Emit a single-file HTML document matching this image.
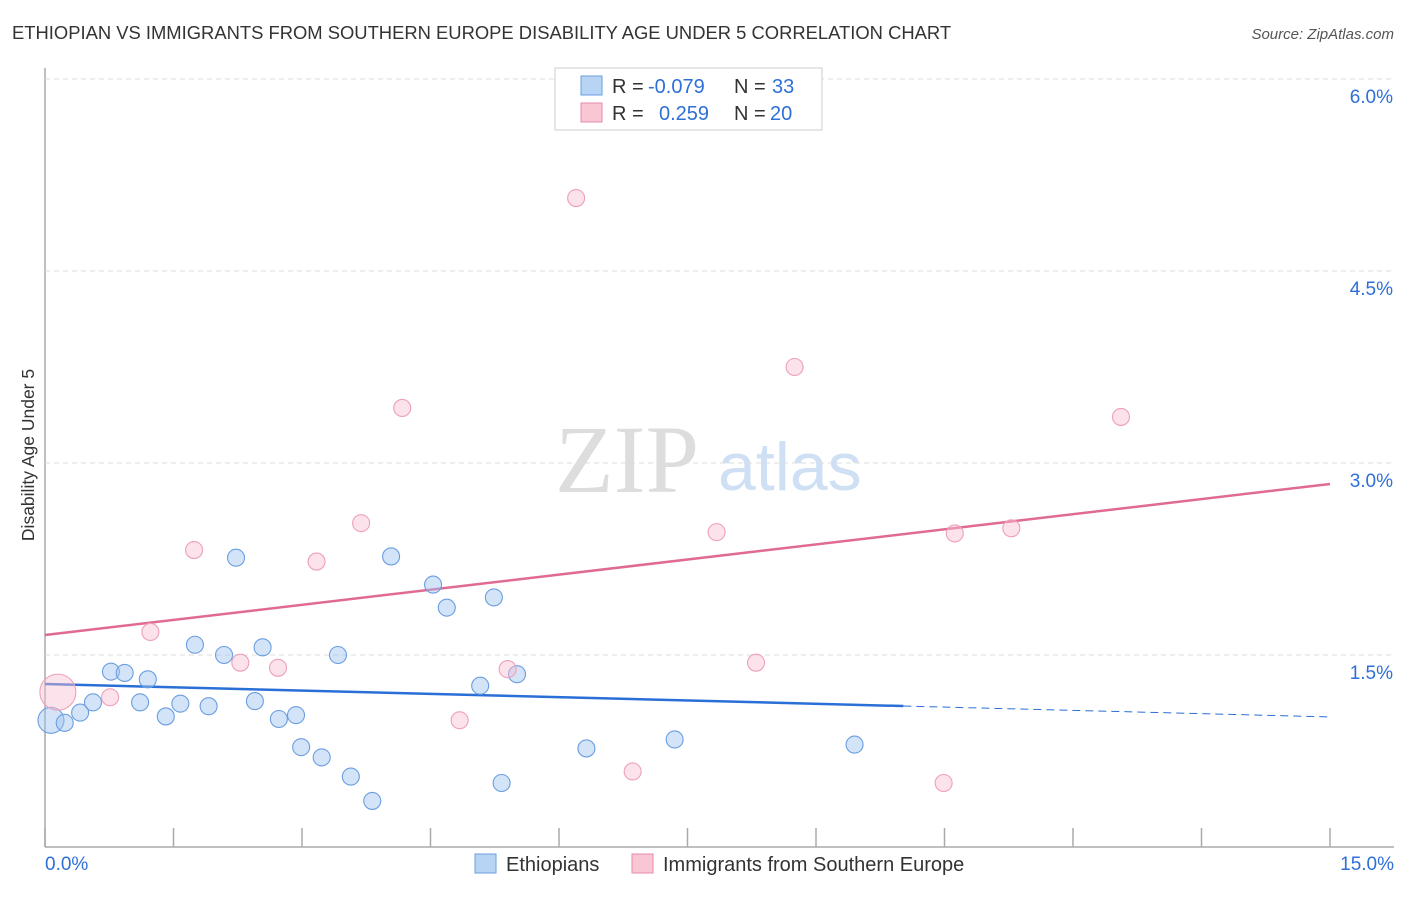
<!DOCTYPE html>
<html><head><meta charset="utf-8"><style>
body{margin:0;background:#fff;font-family:"Liberation Sans",sans-serif}
#wrap{position:relative;width:1406px;height:892px}
</style></head><body><div id="wrap">
<svg id="svg" width="1406" height="892" xmlns="http://www.w3.org/2000/svg">
<text x="12" y="39" font-size="18.4" fill="#333">ETHIOPIAN VS IMMIGRANTS FROM SOUTHERN EUROPE DISABILITY AGE UNDER 5 CORRELATION CHART</text>
<text x="1394" y="39" font-size="15" fill="#555" font-style="italic" text-anchor="end">Source: ZipAtlas.com</text>
<text transform="translate(34,455) rotate(-90)" font-size="17.5" fill="#333" text-anchor="middle">Disability Age Under 5</text>
<text x="555" y="492" font-size="96" fill="#ddd" font-family="Liberation Serif,serif">ZIP</text>
<text x="718" y="490" font-size="68" fill="#cfe0f5">atlas</text>
<g id="grid"></g><g id="ticks"></g><g id="trend"></g><g id="pts"></g>
<g>
<rect x="555" y="68" width="267" height="62" fill="#fff" stroke="#ccc"/>
<rect x="581" y="76" width="21" height="19" fill="#b8d4f5" stroke="#6a9ee0"/>
<rect x="581" y="103" width="21" height="19" fill="#f9c6d4" stroke="#e88aa8"/>
<text x="612" y="93" font-size="20" fill="#333">R = <tspan fill="#2e6fd8" x="648">-0.079</tspan></text>
<text x="734" y="93" font-size="20" fill="#333">N = <tspan fill="#2e6fd8" x="772">33</tspan></text>
<text x="612" y="120" font-size="20" fill="#333">R = <tspan fill="#2e6fd8" x="659">0.259</tspan></text>
<text x="734" y="120" font-size="20" fill="#333">N = <tspan fill="#2e6fd8" x="770">20</tspan></text>
</g>
<g>
<rect x="475" y="854" width="21" height="19" fill="#b8d4f5" stroke="#6a9ee0"/>
<text x="506" y="871" font-size="20" fill="#333">Ethiopians</text>
<rect x="632" y="854" width="21" height="19" fill="#f9c6d4" stroke="#e88aa8"/>
<text x="663" y="871" font-size="20" fill="#333">Immigrants from Southern Europe</text>
</g>
</svg></div>
<script>
const blueX=[0.07,0.23,0.41,0.56,0.77,0.93,1.11,1.20,1.41,1.58,1.75,1.91,2.09,2.23,2.45,2.54,2.73,2.93,2.99,3.23,3.42,3.57,3.82,4.04,4.53,4.69,5.08,5.24,5.33,5.51,6.32,7.35,9.45];
const blueY=[0.99,0.97,1.05,1.13,1.37,1.36,1.13,1.31,1.02,1.12,1.58,1.10,1.50,2.26,1.14,1.56,1.00,1.03,0.78,0.70,1.50,0.55,0.36,2.27,2.05,1.87,1.26,1.95,0.50,1.35,0.77,0.84,0.80];
const pinkX=[0.15,0.76,1.23,1.74,2.28,2.72,3.17,3.69,4.17,4.84,5.40,6.20,6.86,7.84,8.30,8.75,10.49,10.62,11.28,12.56];
const pinkY=[1.21,1.17,1.68,2.32,1.44,1.40,2.23,2.53,3.43,0.99,1.39,5.07,0.59,2.46,1.44,3.75,0.50,2.45,2.49,3.36];
const blueTrend=[1.273,1.016]; const blueSolidEnd=10.02;
const pinkTrend=[1.656,2.836];
const yTicks=[1.5,3.0,4.5,6.0];
const yTickLabels=["1.5%","3.0%","4.5%","6.0%"];
const xTicks=[0,1.5,3,4.5,6,7.5,9,10.5,12,13.5,15];
const xLabels=["0.0%","15.0%"];
const NS="http://www.w3.org/2000/svg";
const X=v=>45+v*(1285/15), Y=v=>847-v*128;
function mk(t,a,p){const e=document.createElementNS(NS,t);for(const k in a)e.setAttribute(k,a[k]);document.getElementById(p).appendChild(e);return e;}
let ax=mk('line',{x1:45,y1:68,x2:45,y2:847,stroke:'#aaa','stroke-width':1.5},'grid');


let bx=mk('line',{x1:45,y1:847,x2:1394,y2:847,stroke:'#aaa','stroke-width':1.5},'grid');


yTicks.forEach((v,i)=>{
 let g=mk('line',{x1:45,y1:Y(v),x2:1394,y2:Y(v),stroke:'#ddd','stroke-dasharray':'5,4'},'grid');
 
 
 let t=mk('text',{x:1393,y:Y(v)+24,'font-size':19,fill:'#2e6fd8','text-anchor':'end'},'ticks');
 t.textContent=yTickLabels[i];
 
 
});
xTicks.forEach(v=>{
 let l=mk('line',{x1:X(v),y1:828,x2:X(v),y2:847,stroke:'#aaa','stroke-width':1.5},'ticks');
 
 
});
[[0,45,'start'],[1,1394,'end']].forEach(([i,x,a])=>{
 let t=mk('text',{x:x,y:870,'font-size':19,fill:'#2e6fd8','text-anchor':a},'ticks');
 t.textContent=xLabels[i];
 
 
});
const by=v=>blueTrend[0]+(blueTrend[1]-blueTrend[0])*v/15;
let t1=mk('line',{x1:X(0),y1:Y(by(0)),x2:X(blueSolidEnd),y2:Y(by(blueSolidEnd)),stroke:'#2a6fd6','stroke-width':2.5},'trend');


let t2=mk('line',{x1:X(blueSolidEnd),y1:Y(by(blueSolidEnd)),x2:X(15),y2:Y(by(15)),stroke:'#2a6fd6','stroke-width':1,'stroke-dasharray':'8,5'},'trend');


let t3=mk('line',{x1:X(0),y1:Y(pinkTrend[0]),x2:X(15),y2:Y(pinkTrend[1]),stroke:'#e06a94','stroke-width':2.5},'trend');


blueX.forEach((v,i)=>{
 let c=mk('circle',{cx:X(v),cy:Y(blueY[i]),r:i==0?13:8.5,fill:'rgba(160,196,240,0.45)',stroke:'#6a9ee0','stroke-width':1.1},'pts');
 
 
});
pinkX.forEach((v,i)=>{
 let c=mk('circle',{cx:X(v),cy:Y(pinkY[i]),r:i==0?18:8.5,fill:'rgba(248,190,208,0.45)',stroke:'#eda0ba','stroke-width':1.1},'pts');
 
 
});
</script></body></html>
